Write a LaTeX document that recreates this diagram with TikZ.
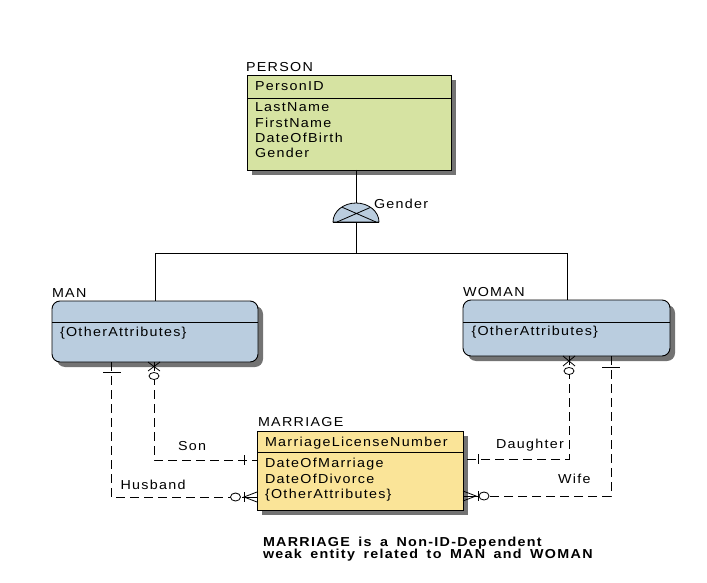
\documentclass[tikz,border=0pt]{standalone}
\usepackage{fontspec}
\setmainfont{Liberation Sans}[LetterSpace=10,FakeStretch=1.1]
\usetikzlibrary{shadows,calc}
\definecolor{pgreen}{RGB}{214,227,162}
\definecolor{mblue}{RGB}{186,205,223}
\definecolor{myellow}{RGB}{250,228,152}
\newcommand{\widesp}{\spaceskip=8.5pt\relax}
\begin{document}
\begin{tikzpicture}[x=1pt,y=-1pt,
  font=\fontsize{13}{15}\selectfont,
  ent/.style={draw=black, line width=0.9pt, anchor=north west, inner sep=0pt, outer sep=0pt,
     drop shadow={shadow xshift=5pt, shadow yshift=-5pt, fill=black!55, opacity=1}},
  txt/.style={anchor=base west, inner sep=0pt, outer sep=0pt},
  notetxt/.style={txt, font=\fontsize{13}{12}\selectfont\bfseries},
  rel/.style={line width=0.8pt, dash pattern=on 9pt off 5pt},
  sym/.style={line width=0.8pt},
  solidline/.style={line width=0.8pt}]
\useasboundingbox (0,0) rectangle (707,583);

% entities
\node[ent, fill=pgreen, minimum width=204pt, minimum height=95pt] (person) at (247,75) {};
\draw[line width=0.9pt] (person.west |- 0,98) -- (person.east |- 0,98);
\node[ent, rounded corners=8pt, fill=mblue, minimum width=206pt, minimum height=61pt] (man) at (52,301) {};
\draw[line width=0.9pt] (man.west |- 0,322) -- (man.east |- 0,322);
\node[ent, rounded corners=8pt, fill=mblue, minimum width=207pt, minimum height=56pt] (woman) at (463,300) {};
\draw[line width=0.9pt] (woman.west |- 0,322) -- (woman.east |- 0,322);
\node[ent, fill=myellow, minimum width=206pt, minimum height=79pt] (marriage) at (257,431) {};
\draw[line width=0.9pt] (marriage.west |- 0,452) -- (marriage.east |- 0,452);

% texts
\node[txt] (lperson) at (246,71.5) {PERSON};
\node[txt] (a1) at (255,91) {PersonID};
\node[txt] (a2) at (255,112) {LastName};
\node[txt] (a3) at (255,127.5) {FirstName};
\node[txt] (a4) at (255,142.5) {DateOfBirth};
\node[txt] (a5) at (255,158) {Gender};
\node[txt] (lman) at (52,297) {MAN};
\node[txt] (b1) at (60,336) {\{OtherAttributes\}};
\node[txt] (lwoman) at (463,296.5) {WOMAN};
\node[txt] (c1) at (471.5,335) {\{OtherAttributes\}};
\node[txt] (lmar) at (258,426) {MARRIAGE};
\node[txt] (d1) at (265,446) {MarriageLicenseNumber};
\node[txt] (d2) at (265,467.5) {DateOfMarriage};
\node[txt] (d3) at (265,483) {DateOfDivorce};
\node[txt] (d4) at (265,498) {\{OtherAttributes\}};
\node[txt] (lgender) at (374,208) {Gender};
\node[txt] (lson) at (178,450.5) {Son};
\node[txt] (lhus) at (120.5,489) {Husband};
\node[txt] (ldau) at (496,448) {Daughter};
\node[txt] (lwife) at (558,483) {Wife};
\node[notetxt] (note1) at (263,546) {\widesp MARRIAGE is a Non-ID-Dependent};
\node[notetxt] (note2) at (263,558) {\widesp weak entity related to MAN and WOMAN};

% subtype cluster
\coordinate (g) at (356,222);
\coordinate (j) at (356,253);
\coordinate (jl) at (155,253);
\coordinate (jr) at (567,253);
\draw[solidline] (356,0 |- person.south) -- (j);
\draw[solidline] (jl) -- (jr);
\draw[solidline] (jl) -- (155,0 |- man.north);
\draw[solidline] (jr) -- (567,0 |- woman.north);
\draw[solidline, fill=mblue] (g) ++(-23pt,0pt) arc[start angle=180, end angle=0, x radius=23pt, y radius=19pt] -- cycle;
\begin{scope}
  \clip (g) ++(-23pt,0pt) arc[start angle=180, end angle=0, x radius=23pt, y radius=19pt] -- cycle;
  \draw[solidline] (337,205) -- (376,222) (337,222) -- (376,205);
\end{scope}
\draw[solidline] (g) ++(-23pt,0pt) -- ++(46pt,0pt);

% relationships
\draw[rel] (154,0 |- man.south) -- (154,460) -- (marriage.west |- 0,460);
\draw[rel] (111,0 |- man.south) -- (111,497) -- (marriage.west |- 0,497);
\draw[rel] (569,0 |- woman.south) -- (569,459) -- (marriage.east |- 0,459);
\draw[rel] (611,0 |- woman.south) -- (611,496) -- (marriage.east |- 0,496);

% symbols: Son
\draw[sym] (148,362) -- (160,371) (160,362) -- (148,371);
\draw[sym, fill=white] (154,376) ellipse [x radius=5pt, y radius=3.5pt];
\draw[sym] (244,455) -- (244,465);
% Husband
\draw[sym] (103,372) -- (121,372);
\draw[sym] (marriage.west |- 0,492) -- (244,497) -- (marriage.west |- 0,502);
\draw[sym] (244,497) -- (marriage.west |- 0,497);
\draw[sym] (244,492) -- (244,502);
\draw[sym, fill=white] (235.5,497) ellipse [x radius=5pt, y radius=4pt];
% Daughter
\draw[sym] (563,356) -- (575,366) (575,356) -- (563,366);
\draw[sym, fill=white] (569,371) ellipse [x radius=5pt, y radius=3.5pt];
\draw[sym] (478,454) -- (478,464);
% Wife
\draw[sym] (602,367) -- (620,367);
\draw[sym] (marriage.east |- 0,491) -- (476,496) -- (marriage.east |- 0,501);
\draw[sym] (476,496) -- (marriage.east |- 0,496);
\draw[sym] (478,491) -- (478,501);
\draw[sym, fill=white] (484,496) ellipse [x radius=5pt, y radius=4pt];
\end{tikzpicture}
\end{document}
